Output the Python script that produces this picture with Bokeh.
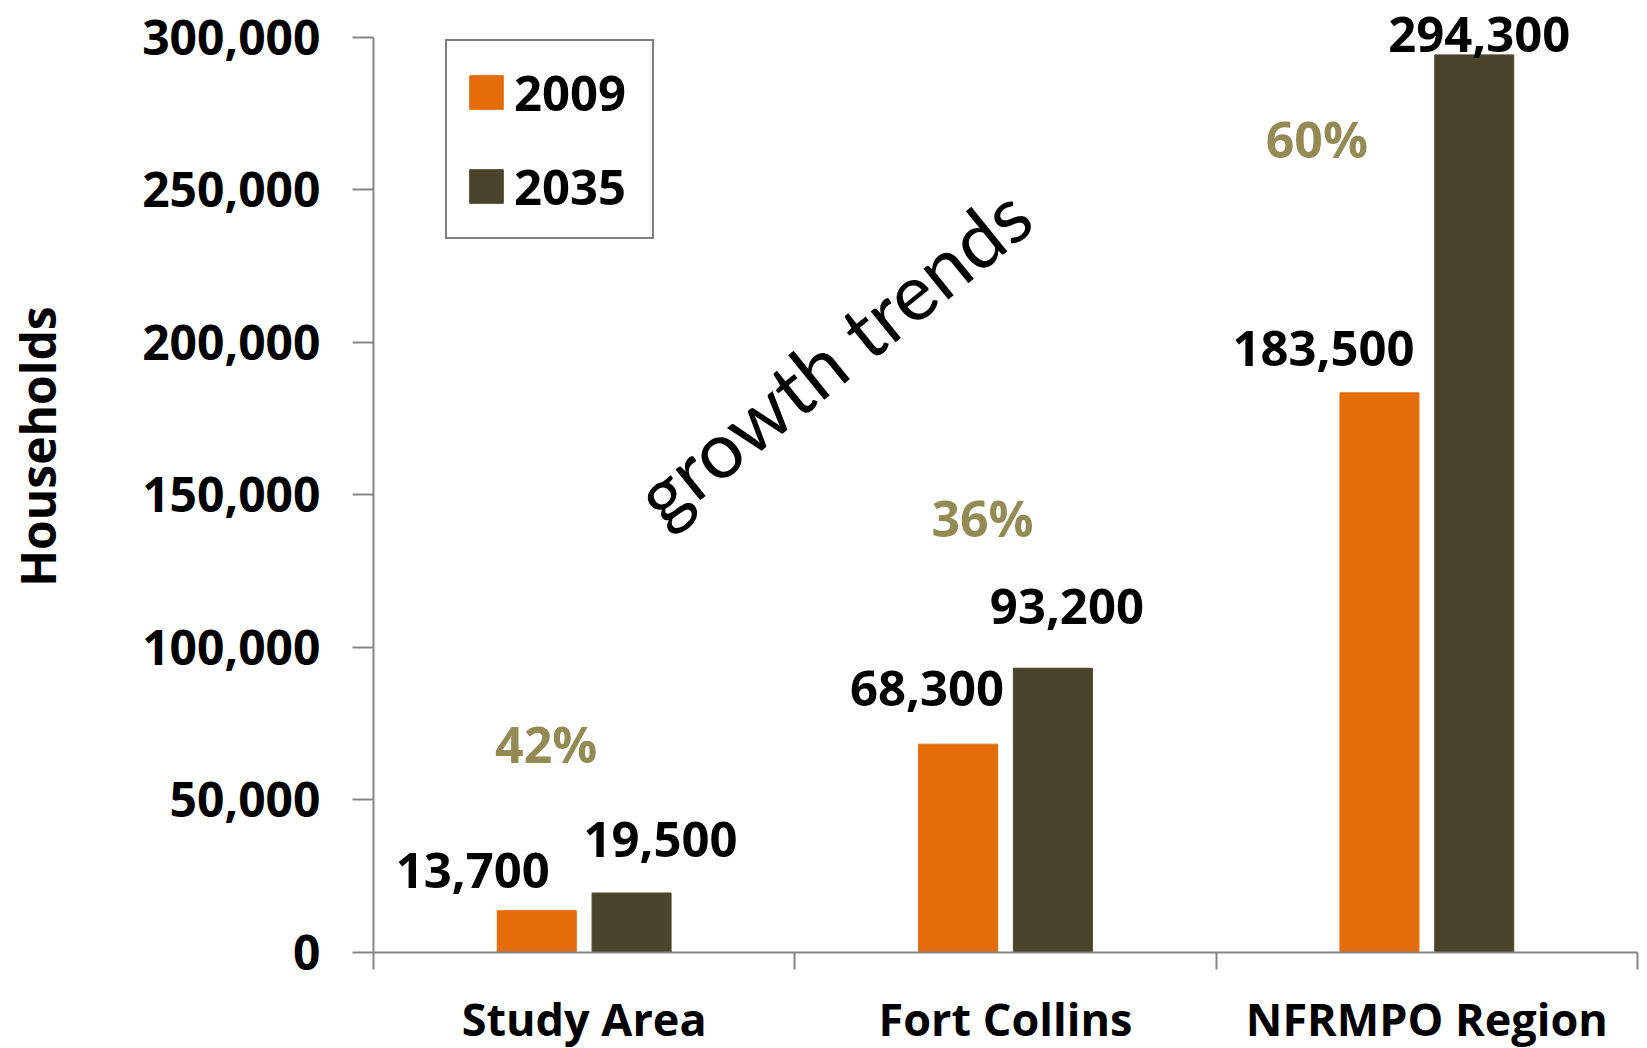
from bokeh.plotting import figure
from bokeh.layouts import row
from bokeh.models import (ColumnDataSource, LinearAxis, FixedTicker, NumeralTickFormatter,
                          Range1d, Legend, LegendItem, LabelSet, Label)
from bokeh.core.properties import value
from bokeh.embed import file_html
from bokeh.resources import INLINE

# ---------------- data ----------------
categories = ["Study Area", "Fort Collins", "NFRMPO Region"]
years = ["2009", "2035"]
households_2009 = [13700, 68300, 183500]
households_2035 = [19500, 93200, 294300]
growth_labels = ["42%", "36%", "60%"]
y_ticks = [0, 50000, 100000, 150000, 200000, 250000, 300000]
y_title = "Households"
annotation_text = "growth trends"

# ---------------- style ----------------
ORANGE = "#E46C0A"
DARK = "#4A452A"
TAN = "#948A54"
AXIS = "#868686"
FONT = "Open Sans"
BAR_W = 0.1875
DODGE = 0.1125
Y_END = 309508
TITLE_W = 70
# label placement (screen px)
lab09_dx = [-64, -31, -56]
lab09_dy = [40, 56, 44]
lab35_dx = [29, 14, 5]
lab35_dy = [54, 62, 20]
pct_dx = [-38, -23, -110]
pct_y = [68200, 142600, 266600]
title_pos = (0.53, 165900)

idx = list(range(len(categories)))
centers = [i + 0.5 for i in idx]
x09 = [c - DODGE for c in centers]
x35 = [c + DODGE for c in centers]

# ---------- narrow figure holding the y-axis title ----------
t = figure(frame_width=TITLE_W, frame_height=944, x_range=Range1d(0, 1), y_range=Range1d(0, Y_END),
           output_backend="svg", toolbar_location=None,
           min_border_left=0, min_border_right=0, min_border_top=8, min_border_bottom=0,
           x_axis_type=None, y_axis_type=None)
t.outline_line_color = None
t.xgrid.visible = False
t.ygrid.visible = False
t.text(x=[title_pos[0]], y=[title_pos[1]], text=[y_title], angle=90, angle_units="deg",
       text_align="center", text_baseline="middle", text_font=value(FONT),
       text_font_style="bold", text_font_size="48px", text_color="black")

# ---------- main chart ----------
p = figure(frame_width=1264, frame_height=944,
           x_range=Range1d(0, len(categories)), y_range=Range1d(0, Y_END),
           output_backend="svg", toolbar_location=None,
           min_border_left=373 - TITLE_W, min_border_right=2, min_border_top=8, min_border_bottom=0,
           x_axis_type=None, y_axis_type=None)
p.outline_line_color = None
p.xgrid.visible = False
p.ygrid.visible = False
p.background_fill_color = "white"
p.border_fill_color = "white"

# y axis
yaxis = LinearAxis(ticker=FixedTicker(ticks=y_ticks, minor_ticks=[]),
                   formatter=NumeralTickFormatter(format="0,0"),
                   bounds=(0, 300000))
yaxis.axis_line_color = AXIS
yaxis.axis_line_width = 2
yaxis.major_tick_line_color = AXIS
yaxis.major_tick_line_width = 2
yaxis.major_tick_out = 21
yaxis.major_tick_in = 0
yaxis.minor_tick_line_color = None
yaxis.major_label_text_font = FONT
yaxis.major_label_text_font_style = "bold"
yaxis.major_label_text_font_size = "48px"
yaxis.major_label_text_color = "black"
yaxis.major_label_standoff = 32
p.add_layout(yaxis, "left")

# x axis
xaxis = LinearAxis(ticker=FixedTicker(ticks=centers, minor_ticks=[0, 1, 2, 3]),
                   major_label_overrides={c: n for c, n in zip(centers, categories)})
xaxis.axis_line_color = AXIS
xaxis.axis_line_width = 2
xaxis.major_tick_line_color = None
xaxis.minor_tick_line_color = AXIS
xaxis.minor_tick_line_width = 2
xaxis.minor_tick_out = 17
xaxis.minor_tick_in = 0
xaxis.major_label_text_font = FONT
xaxis.major_label_text_font_style = "bold"
xaxis.major_label_text_font_size = "45px"
xaxis.major_label_text_color = "black"
xaxis.major_label_standoff = 18
p.add_layout(xaxis, "below")

# bars
src09 = ColumnDataSource(dict(x=x09, top=households_2009,
                              text=[f"{v:,}" for v in households_2009],
                              dx=lab09_dx, dy=lab09_dy))
src35 = ColumnDataSource(dict(x=x35, top=households_2035,
                              text=[f"{v:,}" for v in households_2035],
                              dx=lab35_dx, dy=lab35_dy))
r09 = p.vbar(x="x", top="top", width=BAR_W, source=src09, fill_color=ORANGE, line_color=ORANGE)
r35 = p.vbar(x="x", top="top", width=BAR_W, source=src35, fill_color=DARK, line_color=DARK)

for src in (src09, src35):
    ls = LabelSet(x="x", y="top", text="text", x_offset="dx", y_offset="dy", source=src,
                  text_align="center", text_baseline="middle",
                  text_font=value(FONT), text_font_style="bold", text_font_size="49px",
                  text_color="black")
    p.add_layout(ls)

pct_src = ColumnDataSource(dict(x=centers, y=pct_y, text=growth_labels, dx=pct_dx))
p.add_layout(LabelSet(x="x", y="y", text="text", x_offset="dx", source=pct_src,
                      text_align="center", text_baseline="middle",
                      text_font=value(FONT), text_font_style="bold", text_font_size="50px",
                      text_color=TAN))

p.add_layout(Label(x=1.089, y=196000, text=annotation_text, angle=39, angle_units="deg",
                   text_align="center", text_baseline="middle",
                   text_font="Lato", text_font_size="78px", text_color="black"))

legend = Legend(items=[LegendItem(label=years[0], renderers=[r09]),
                       LegendItem(label=years[1], renderers=[r35])],
                location=(72, 713))
legend.glyph_width = 42
legend.glyph_height = 42
legend.label_standoff = 7
legend.label_width = 120
legend.padding = 18
legend.spacing = 28
legend.margin = 0
legend.label_text_font = FONT
legend.label_text_font_style = "bold"
legend.label_text_font_size = "49px"
legend.label_text_color = "black"
legend.border_line_color = "black"
legend.border_line_width = 2
legend.background_fill_color = "white"
legend.background_fill_alpha = 1
p.add_layout(legend)

layout = row(t, p, spacing=0)
open("out.html", "w").write(file_html(layout, INLINE))
